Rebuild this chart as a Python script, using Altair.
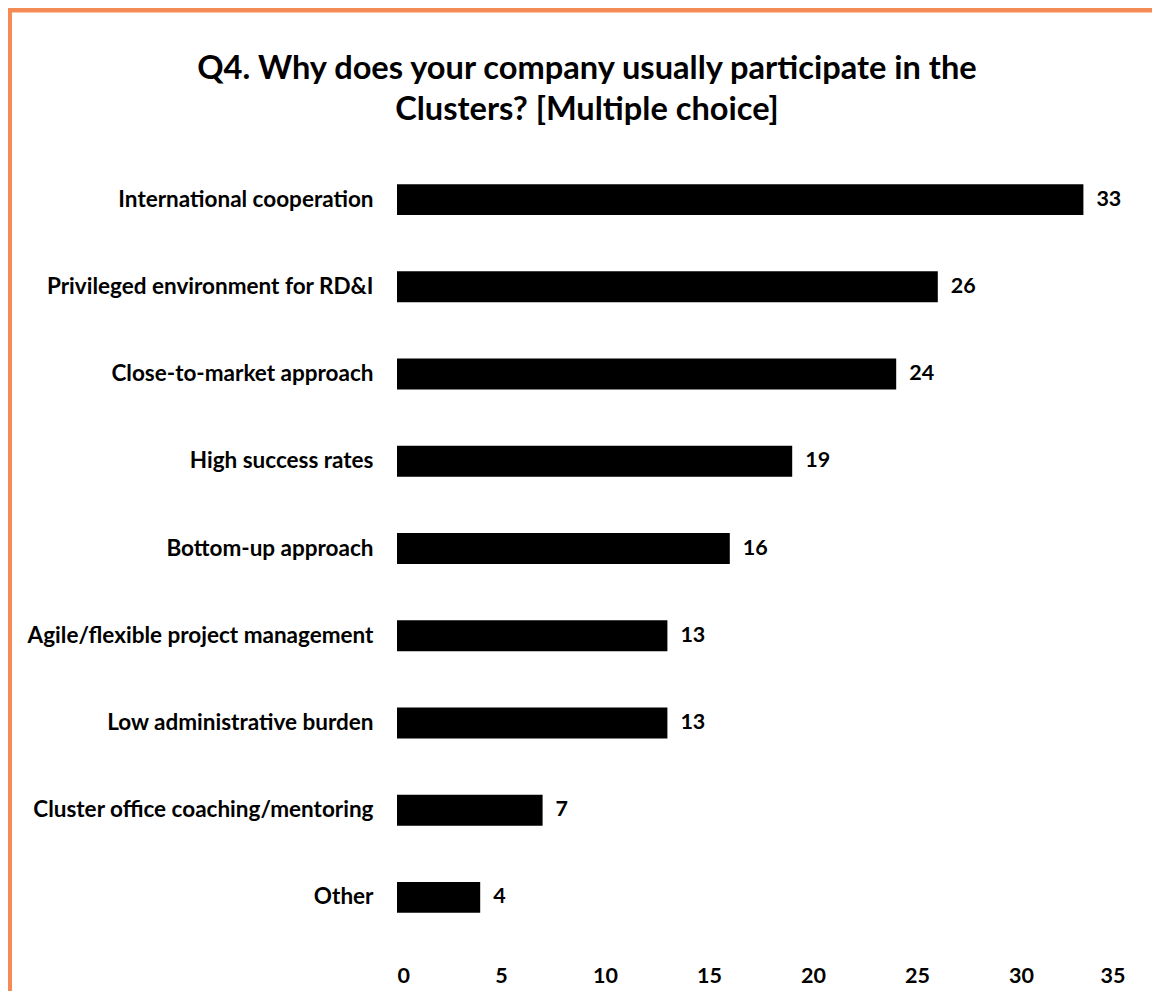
import altair as alt
import pandas as pd

categories = [
    "International cooperation",
    "Privileged environment for RD&I",
    "Close-to-market approach",
    "High success rates",
    "Bottom-up approach",
    "Agile/flexible project management",
    "Low administrative burden",
    "Cluster office coaching/mentoring ",
    "Other",
]
values = [33, 26, 24, 19, 16, 13, 13, 7, 4]
x_ticks = [0, 5, 10, 15, 20, 25, 30, 35]

df = pd.DataFrame({"cat": categories, "val": values})

FONT = "Lato"
W, H = 728, 785

y_enc = alt.Y("cat:N", sort=categories, title=None,
              scale=alt.Scale(paddingInner=0.645, paddingOuter=0.3225),
              axis=alt.Axis(domain=False, ticks=False, labelPadding=24,
                            labelFont=FONT, labelFontSize=22.5, labelFontWeight="bold",
                            labelColor="black", labelLimit=400))
x_enc = alt.X("val:Q", title=None,
              scale=alt.Scale(domain=[0, 35], nice=False),
              axis=alt.Axis(values=x_ticks, domain=False, ticks=False, grid=False,
                            labelPadding=24, labelFont=FONT, labelFontSize=21.5,
                            labelFontWeight="bold", labelColor="black"))

bars = alt.Chart(df).mark_bar(color="black").encode(x=x_enc, y=y_enc)
labels = alt.Chart(df).mark_text(align="left", baseline="middle", dx=13,
                                 font=FONT, fontSize=21.5, fontWeight="bold",
                                 color="black").encode(
    x="val:Q", y=alt.Y("cat:N", sort=categories), text="val:Q")

border_color = "#F58B54"
left_border = alt.Chart(df.head(1)).mark_rule(color=border_color, strokeWidth=5).encode(
    x=alt.value(-387.5), y=alt.value(-148), y2=alt.value(H + 60))
top_border = alt.Chart(df.head(1)).mark_rule(color=border_color, strokeWidth=5).encode(
    x=alt.value(-390), x2=alt.value(W + 30), y=alt.value(-146))

chart = alt.layer(bars, labels, left_border, top_border).properties(
    width=W, height=H,
    background="white",
    title=alt.TitleParams(
        text=["Q4. Why does your company usually participate in the",
              "Clusters? [Multiple choice]"],
        font=FONT, fontSize=32.6, fontWeight="bold", color="black",
        anchor="middle", frame="bounds", lineHeight=41, offset=0, dy=121, dx=6),
    autosize=alt.AutoSizeParams(type="none"),
    padding={"left": 389, "top": 148, "right": 27, "bottom": 50},
).configure_view(stroke=None)

chart.save("out.html", embed_options={"renderer": "svg", "actions": False})
